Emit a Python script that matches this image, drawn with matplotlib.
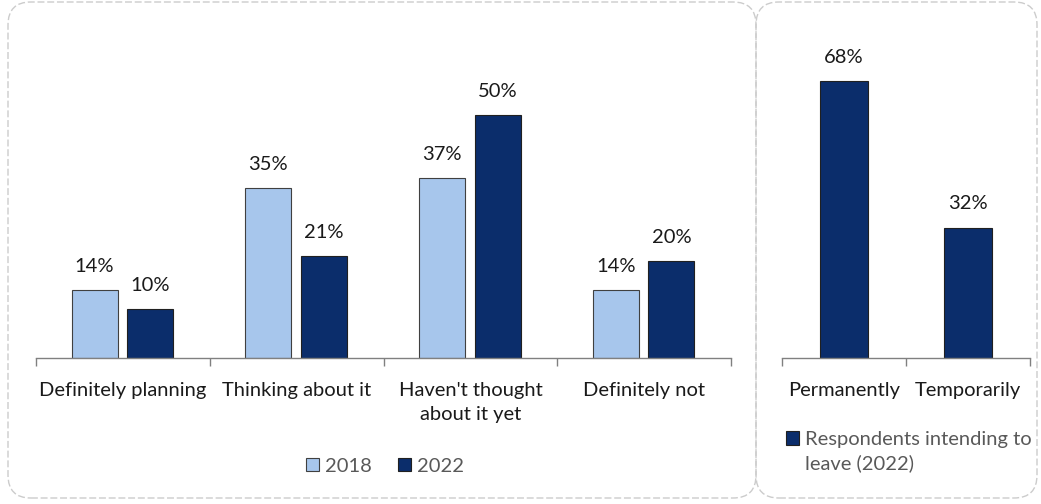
import matplotlib
matplotlib.use("Agg")
import matplotlib.pyplot as plt
from matplotlib.patches import FancyBboxPatch
import numpy as np

# Data
categories = ["Definitely planning", "Thinking about it", "Haven't thought\nabout it yet", "Definitely not"]
values_2018 = [14, 35, 37, 14]
values_2022 = [10, 21, 50, 20]
leave_categories = ["Permanently", "Temporarily"]
leave_values = [68, 32]

LIGHT = "#A7C6EC"
DARK = "#0B2D6B"
TEXT = "#1a1a1a"
LEGEND_TEXT = "#595959"
AXIS = "#808080"

plt.rcParams["font.family"] = ["Lato", "DejaVu Sans"]
FS = 14.5

W, H = 1041, 504
fig = plt.figure(figsize=(W / 100, H / 100), dpi=100)


def px_axes(x0, x1, y_top, y_base):
    return fig.add_axes([x0 / W, (H - y_base) / H, (x1 - x0) / W, (y_base - y_top) / H])


# Dashed rounded panel frames
for (x0, x1) in [(8, 756), (756, 1037)]:
    box = FancyBboxPatch((x0 / W, 6 / H), (x1 - x0) / W, (502 - 6) / H,
                         boxstyle="round,pad=0,rounding_size=0.022",
                         transform=fig.transFigure, fill=False,
                         edgecolor="#cccccc", linestyle=(0, (5, 2)), linewidth=1.0,
                         mutation_aspect=W / H)
    fig.patches.append(box)


def style_axis(ax, n):
    for s in ["top", "right", "left"]:
        ax.spines[s].set_visible(False)
    ax.spines["bottom"].set_color(AXIS)
    ax.spines["bottom"].set_linewidth(1.0)
    ax.set_yticks([])
    ax.set_xlim(-0.5, n - 0.5)
    ax.set_xticks(np.arange(n))
    ax.set_xticks(np.arange(n + 1) - 0.5, minor=True)
    ax.tick_params(axis="x", which="major", length=0, pad=17, labelsize=FS, labelcolor=TEXT)
    ax.tick_params(axis="x", which="minor", length=6, width=1.0, color=AXIS, direction="out")
    ax.patch.set_alpha(0)


def label_bars(ax, bars, vals):
    for b, v in zip(bars, vals):
        ax.annotate(f"{v}%", (b.get_x() + b.get_width() / 2, b.get_height()),
                    xytext=(0, 11), textcoords="offset points",
                    ha="center", va="bottom", fontsize=FS, color=TEXT)


# Left panel: 2018 vs 2022
ax1 = px_axes(36, 731, 66.4, 358)
x = np.arange(len(categories))
bw = 0.265
b1 = ax1.bar(x - 0.163, values_2018, bw, color=LIGHT, edgecolor="#404040", linewidth=0.8, label="2018")
b2 = ax1.bar(x + 0.157, values_2022, bw, color=DARK, edgecolor="#202020", linewidth=0.8, label="2022")
ax1.set_ylim(0, 60)
style_axis(ax1, len(categories))
ax1.set_xticklabels(categories, linespacing=1.55)
label_bars(ax1, b1, values_2018)
label_bars(ax1, b2, values_2022)
leg1 = ax1.legend(loc="center", bbox_to_anchor=((385 - 36) / 695, -(466 - 358) / (358 - 66.4)),
                  ncol=2, frameon=False, fontsize=FS, handlelength=0.65, handleheight=0.65,
                  handletextpad=0.3, columnspacing=1.3, borderaxespad=0)
for t in leg1.get_texts():
    t.set_color(LEGEND_TEXT)

# Right panel: intention to leave
ax2 = px_axes(782, 1030, 32.4, 358)
xr = np.arange(len(leave_categories))
b3 = ax2.bar(xr, leave_values, 0.39, color=DARK, edgecolor="#202020", linewidth=0.8,
             label="Respondents intending to")
ax2.set_ylim(0, 80)
style_axis(ax2, len(leave_categories))
ax2.set_xticklabels(leave_categories)
label_bars(ax2, b3, leave_values)
leg2 = ax2.legend(loc="upper left", bbox_to_anchor=((786 - 782) / 248, -(431 - 358) / (358 - 32.4)),
                  frameon=False, fontsize=FS, handlelength=0.65, handleheight=0.65,
                  handletextpad=0.3, borderaxespad=0, borderpad=0)
for t in leg2.get_texts():
    t.set_color(LEGEND_TEXT)

fig.canvas.draw()
txt = leg2.get_texts()[0]
bb = txt.get_window_extent()
fig.text(bb.x0 / W, (bb.y0 - 24) / H, "leave (2022)", fontsize=FS, color=LEGEND_TEXT,
         ha="left", va="bottom")

fig.savefig("out.png", dpi=100, facecolor="white")
